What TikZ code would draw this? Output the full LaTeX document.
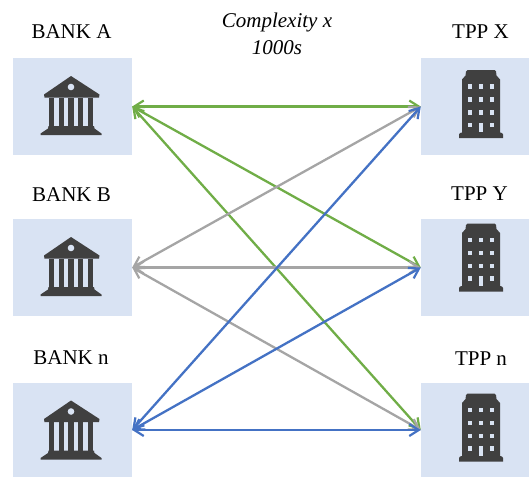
\documentclass[tikz,border=0pt]{standalone}
\usetikzlibrary{arrows.meta}
\usepackage{fontspec}
\setmainfont{Liberation Serif}
\definecolor{boxblue}{HTML}{D9E3F3}
\definecolor{icon}{HTML}{404040}
\definecolor{lgreen}{HTML}{70AD47}
\definecolor{lgray}{HTML}{A5A5A5}
\definecolor{lblue}{HTML}{4472C4}
\tikzset{
  x=1pt,y=-1pt,
  lbl/.style={font=\fontsize{21}{27}\selectfont,inner sep=0pt,text=black},
  leftbox/.style={fill=boxblue,draw=none,minimum width=119pt,inner sep=0pt},
  rightbox/.style={fill=boxblue,draw=none,minimum width=108pt,inner sep=0pt},
  link/.style={line width=2.3pt,{Straight Barb[length=9.5pt,width=12pt,line width=2.2pt]}-{Straight Barb[length=9.5pt,width=12pt,line width=2.2pt]}},
  bank/.pic={
    \fill[icon] (-28.5,-12) -- (-1.5,-30.5) -- (27,-12) -- (26.5,-9) -- (-28,-9) -- cycle;
    \fill[boxblue] (-1.5,-19.5) circle (3.3);
    \foreach \cx in {-21,-11.3,-1.5,8.3,18.3}
      \fill[icon] (\cx-2.6,-9) rectangle (\cx+2.6,20);
    \fill[icon] (-24,19.5) -- (21.5,19.5) -- (22,22) -- (29,27) -- (29,28.5) -- (-32,28.5) -- (-32,27) -- (-24.5,22) -- cycle;
  },
  tower/.pic={
    \fill[icon] (-19,-27) -- (-15.5,-31) -- (-15,-35) -- (-13.5,-36.5) -- (13.5,-36.5) -- (15,-35) -- (15.5,-31) -- (19,-27) -- (19,26) -- (21,26.5) -- (22,28) -- (22,31.5) -- (-22,31.5) -- (-22,28) -- (-21,26.5) -- (-19,26) -- cycle;
    \foreach \wy in {-20,-7,6}
      \foreach \wx in {-11,0,11}
        \fill[boxblue] (\wx-2.4,\wy-2.4) rectangle (\wx+2.4,\wy+2.4);
    \fill[boxblue] (-13.4,16.1) rectangle (-8.6,20.9);
    \fill[boxblue] (8.6,16.1) rectangle (13.4,20.9);
    \fill[boxblue] (-2.4,16) rectangle (2.4,25.5);
  },
}
\begin{document}
\begin{tikzpicture}
\useasboundingbox (0,0) rectangle (529,477);
\node[leftbox,minimum height=97pt] (bA) at (72.5,106.5) {};
\node[leftbox,minimum height=97pt] (bB) at (72.5,267.5) {};
\node[leftbox,minimum height=94pt] (bN) at (72.5,430) {};
\node[rightbox,minimum height=97pt] (tX) at (475,106.5) {};
\node[rightbox,minimum height=97pt] (tY) at (475,267.5) {};
\node[rightbox,minimum height=94pt] (tN) at (475,430) {};
\pic at (bA.center) {bank};
\pic at (bB.center) {bank};
\pic at ([yshift=-1pt]bN.center) {bank};
\pic at ([xshift=6pt]tX.center) {tower};
\pic at ([xshift=6pt,yshift=7.5pt]tY.center) {tower};
\pic at ([xshift=6pt]tN.center) {tower};
\node[lbl] (lA) at (71.5,32) {BANK A};
\node[lbl] (lB) at (71.5,194.5) {BANK B};
\node[lbl] (lN) at (71,358) {BANK n};
\node[lbl] (lX) at (480.5,32) {TPP X};
\node[lbl] (lY) at (479.5,194) {TPP Y};
\node[lbl] (lM) at (481,359) {TPP n};
\node[lbl,align=center,font=\fontsize{21}{27}\selectfont\itshape] (cx) at (277,34) {Complexity x\\1000s};
\draw[link,lgreen] (bA.east) -- (tX.west);
\draw[link,lgreen] (bA.east) -- (tY.west);
\draw[link,lgreen] (bA.east) -- (tN.west);
\draw[link,lgray] (bB.east) -- (tX.west);
\draw[link,lgray] (bB.east) -- (tY.west);
\draw[link,lgray] (bB.east) -- (tN.west);
\draw[link,lblue] (bN.east) -- (tX.west);
\draw[link,lblue] (bN.east) -- (tY.west);
\draw[link,lblue] (bN.east) -- (tN.west);
\end{tikzpicture}
\end{document}
